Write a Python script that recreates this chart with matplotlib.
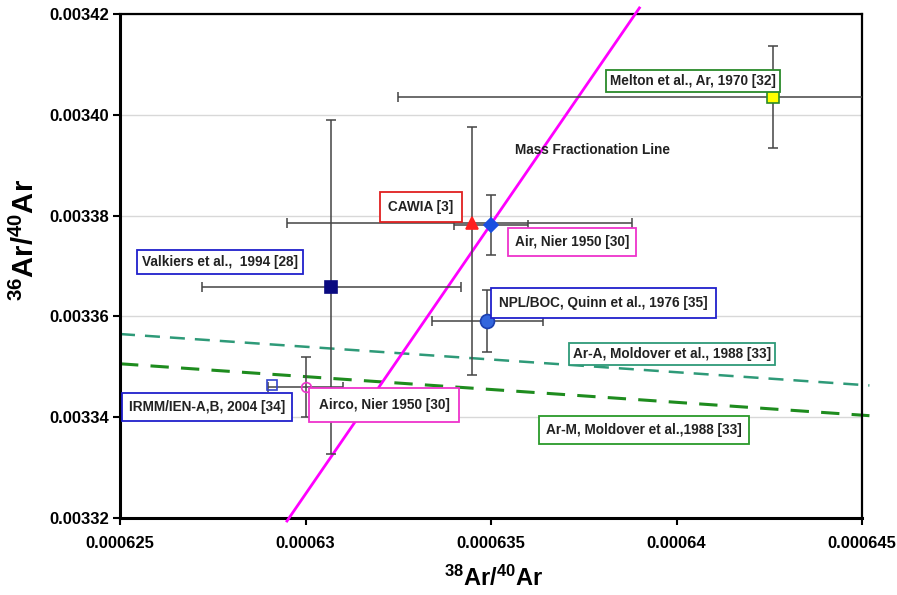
import matplotlib
matplotlib.use("Agg")
import matplotlib.pyplot as plt

plt.rcParams['font.family'] = ['Liberation Sans', 'DejaVu Sans']
plt.rcParams['mathtext.fontset'] = 'custom'
plt.rcParams['mathtext.rm'] = 'Liberation Sans'
plt.rcParams['mathtext.bf'] = 'Liberation Sans:bold'

# ---- data ----
names = ["Melton et al., Ar, 1970 [32]", "CAWIA [3]", "Air, Nier 1950 [30]",
         "Valkiers et al.,  1994 [28]", "NPL/BOC, Quinn et al., 1976 [35]",
         "IRMM/IEN-A,B, 2004 [34]", "Airco, Nier 1950 [30]"]
x_vals = [0.0006426, 0.0006345, 0.0006350, 0.0006307, 0.0006349, 0.0006291, 0.0006300]
y_vals = [0.0034035, 0.0033785, 0.0033781, 0.0033658, 0.0033591, 0.0033464, 0.0033460]
x_err_minus = [0.0000101, 0.0000050, 0.0000010, 0.0000035, 0.0000015, 0.0, 0.0000010]
x_err_plus  = [0.0000101, 0.0000043, 0.0000010, 0.0000035, 0.0000015, 0.0, 0.0000010]
y_err_minus = [0.0000101, 0.0000301, 0.0000060, 0.0000331, 0.0000062, 0.0, 0.0000060]
y_err_plus  = [0.0000101, 0.0000191, 0.0000060, 0.0000331, 0.0000062, 0.0, 0.0000060]

mass_line_x = [0.0006295, 0.0006390]
mass_line_y = [0.0033194, 0.0034212]
arA_x = [0.000625, 0.0006452]
arA_y = [0.0033565, 0.0033463]
arM_x = [0.000625, 0.0006452]
arM_y = [0.0033506, 0.0033403]
line_names = ["Ar-A, Moldover et al., 1988 [33]", "Ar-M, Moldover et al.,1988 [33]"]
mass_line_name = "Mass Fractionation Line"

x_ticks = [0.000625, 0.00063, 0.000635, 0.00064, 0.000645]
x_tick_labels = ["0.000625", "0.00063", "0.000635", "0.00064", "0.000645"]
y_ticks = [0.00332, 0.00334, 0.00336, 0.00338, 0.00340, 0.00342]
y_tick_labels = ["0.00332", "0.00334", "0.00336", "0.00338", "0.00340", "0.00342"]

# ---- styles ----
markers = ['s', '^', 'D', 's', 'o', 's', 'o']
mfaces = ['#ffff00', '#ff2020', '#1a4fe0', '#0a0a80', '#3366dd', 'none', 'none']
medges = ['#2a8a2a', '#ff2020', '#1a4fe0', '#0a0a80', '#1a3fb0', '#3344cc', '#ee33cc']
msizes = [9, 8, 7, 8, 10, 7, 7]

fig = plt.figure(figsize=(8.97, 5.95), dpi=100)
ax = fig.add_axes([0.1338, 0.1294, 0.961 - 0.1338, 0.9765 - 0.1294])
ax.set_xlim(0.000625, 0.000645)
ax.set_ylim(0.00332, 0.00342)

ax.set_yticks(y_ticks)
ax.set_yticklabels(y_tick_labels, fontsize=12, fontweight='bold')
ax.set_xticks(x_ticks)
ax.set_xticklabels(x_tick_labels, fontsize=12, fontweight='bold')
ax.tick_params(axis='both', direction='out', length=5, width=1.5)
ax.tick_params(axis='y', pad=3)
ax.tick_params(axis='x', pad=8)
ax.yaxis.grid(True, color='#d8d8d8', linewidth=1)
ax.set_axisbelow(True)
for s in ax.spines.values():
    s.set_linewidth(1.6)
    s.set_color('black')
ax.spines['left'].set_linewidth(2.2)
ax.spines['bottom'].set_linewidth(2.2)

# dashed lines
ax.plot(arA_x, arA_y, linestyle=(0, (6, 4)), color='#2e9a78', linewidth=1.8, clip_on=False, zorder=2)
ax.plot(arM_x, arM_y, linestyle=(0, (6, 4)), color='#1e8c1e', linewidth=2.2, clip_on=False, zorder=2)

# mass fractionation line
ax.plot(mass_line_x, mass_line_y, color='#ff00ff', linewidth=2, clip_on=False, zorder=3)

# data points with error bars
for i in range(len(names)):
    xe = [[x_err_minus[i]], [x_err_plus[i]]]
    ye = [[y_err_minus[i]], [y_err_plus[i]]]
    if x_err_minus[i] > 0 or y_err_minus[i] > 0:
        ax.errorbar([x_vals[i]], [y_vals[i]], xerr=xe, yerr=ye, fmt='none',
                    ecolor='#444444', elinewidth=1.1, capsize=3.5, capthick=1.1, zorder=4)
    ax.plot([x_vals[i]], [y_vals[i]], marker=markers[i], markersize=msizes[i],
            markerfacecolor=mfaces[i], markeredgecolor=medges[i], markeredgewidth=1.2,
            linestyle='none', zorder=5)

# labels with boxes (positions in axes fraction)
label_text = names + line_names
label_pos = [(0.772, 0.867), (0.4057, 0.617), (0.609, 0.5476), (0.1348, 0.508),
             (0.652, 0.4266), (0.1173, 0.2202), (0.3558, 0.2242), (0.744, 0.3254),
             (0.706, 0.1746)]
label_pad = [0.3, 0.6, 0.5, 0.35, 0.6, 0.5, 0.7, 0.3, 0.5]
label_edge = ['#2a8a2a', '#e02020', '#ee33cc', '#2020cc', '#2020cc', '#2020cc',
              '#ee33cc', '#2e9a78', '#2a9a2a']
for t, (lx, ly), ec, pd in zip(label_text, label_pos, label_edge, label_pad):
    ax.text(lx, ly, t, transform=ax.transAxes, fontsize=9.8, fontweight='bold',
            color='#222222', ha='center', va='center', zorder=6,
            bbox=dict(boxstyle='square,pad=%.2f' % pd, facecolor='white',
                      edgecolor=ec, linewidth=1.3))

ax.text(0.5323, 0.730, mass_line_name, transform=ax.transAxes, fontsize=9.8,
        fontweight='bold', color='#222222', ha='left', va='center', zorder=6)

ax.set_xlabel(r'$\mathbf{^{38}Ar/^{40}Ar}$', fontsize=17)
ax.xaxis.set_label_coords(0.503, -0.119)
ax.xaxis.label.set_verticalalignment('center')
ax.set_ylabel(r'$\mathbf{^{36}Ar/^{40}Ar}$', fontsize=21)
ax.yaxis.set_label_coords(-0.128, 0.552)
ax.yaxis.label.set_verticalalignment('center')

fig.savefig("out.png", dpi=100)
